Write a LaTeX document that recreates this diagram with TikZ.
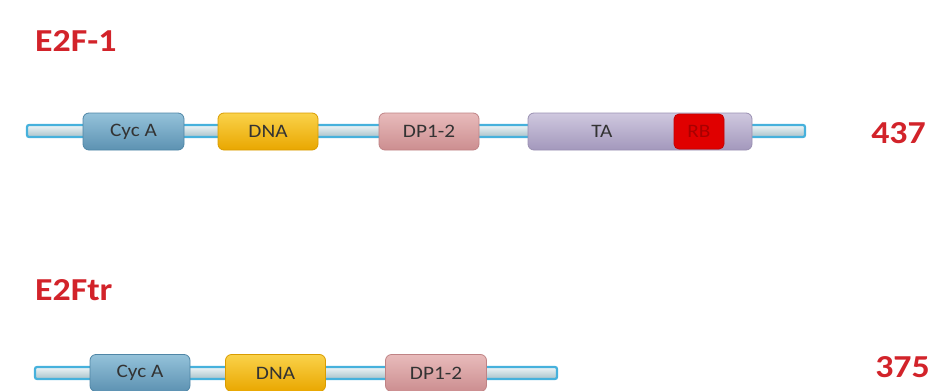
\documentclass[tikz,border=0pt]{standalone}
\usepackage{fontspec}
\setmainfont[FakeStretch=1.12]{Carlito}
\definecolor{barline}{HTML}{46B1DC}
\definecolor{bartop}{HTML}{EEF5F7}
\definecolor{barbot}{HTML}{A8C2CA}
\definecolor{txt}{HTML}{333333}
\definecolor{lbl}{HTML}{D2232A}
\tikzset{
  dom/.style={rounded corners=6pt, minimum height=37pt, inner sep=0pt, text=txt,
    font=\fontsize{19}{21}\selectfont, line width=0.8pt},
  cyca/.style={dom, draw=cycline, top color=cyctop, bottom color=cycbot},
  dna/.style={dom, draw=dnaline, top color=dnatop, bottom color=dnabot},
  dp/.style={dom, draw=dpline, top color=dptop, bottom color=dpbot},
  ta/.style={dom, draw=taline, top color=tatop, bottom color=tabot},
  rb/.style={dom, rounded corners=5pt, minimum height=35pt, draw=rbline, fill=rbfill, text=rbtext},
  bar/.style={draw=barline, line width=2.2pt, top color=bartop, bottom color=barbot, rounded corners=2pt},
  title/.style={font=\bfseries\fontsize{32}{34}\selectfont, text=lbl, inner sep=0pt},
  len/.style={font=\bfseries\fontsize{32}{34}\selectfont, text=lbl, inner sep=0pt}
}
\definecolor{cycline}{HTML}{4F86A6}
\definecolor{cyctop}{HTML}{94C2DA}
\definecolor{cycbot}{HTML}{5D92B2}
\definecolor{dnaline}{HTML}{D99C00}
\definecolor{dnatop}{HTML}{FAD24A}
\definecolor{dnabot}{HTML}{E9A700}
\definecolor{dpline}{HTML}{BF8385}
\definecolor{dptop}{HTML}{E8BBBB}
\definecolor{dpbot}{HTML}{CC8E90}
\definecolor{taline}{HTML}{9A90B2}
\definecolor{tatop}{HTML}{CFC8DF}
\definecolor{tabot}{HTML}{A398BC}
\definecolor{rbline}{HTML}{C40000}
\definecolor{rbfill}{HTML}{E00000}
\definecolor{rbtext}{HTML}{A80000}
\begin{document}
\begin{tikzpicture}[x=1pt,y=-1pt]
\useasboundingbox (0,0) rectangle (935,391);
% row 1
\coordinate (b1a) at (27,125);
\coordinate (b1b) at (805,137);
\draw[bar] (b1a) rectangle (b1b);
\node[title, anchor=base west] (t1) at (35,51.5) {E2F-1};
\node[cyca, minimum width=101pt] (cyc1) at (133.5,131.5) {Cyc A};
\node[dna, minimum width=100pt] (dna1) at (268,131.5) {DNA};
\node[dp, minimum width=100pt] (dp1) at (429,131.5) {DP1-2};
\node[ta, minimum width=224pt] (ta1) at (640,131.5) {};
\node[text=txt, font=\fontsize{19}{21}\selectfont] (tat) at (602,131.5) {TA};
\node[rb, minimum width=50pt] (rb1) at (699,131.5) {RB};
\node[len, anchor=base east] (n1) at (926,143) {437};
% row 2
\coordinate (b2a) at (35,367);
\coordinate (b2b) at (557,379);
\draw[bar] (b2a) rectangle (b2b);
\node[title, anchor=base west] (t2) at (35,300) {E2Ftr};
\node[cyca, minimum width=100pt] (cyc2) at (140,373) {Cyc A};
\node[dna, minimum width=100pt] (dna2) at (275.5,373) {DNA};
\node[dp, minimum width=101pt] (dp2) at (436,373) {DP1-2};
\node[len, anchor=base east] (n2) at (930,377) {375};
\end{tikzpicture}
\end{document}
